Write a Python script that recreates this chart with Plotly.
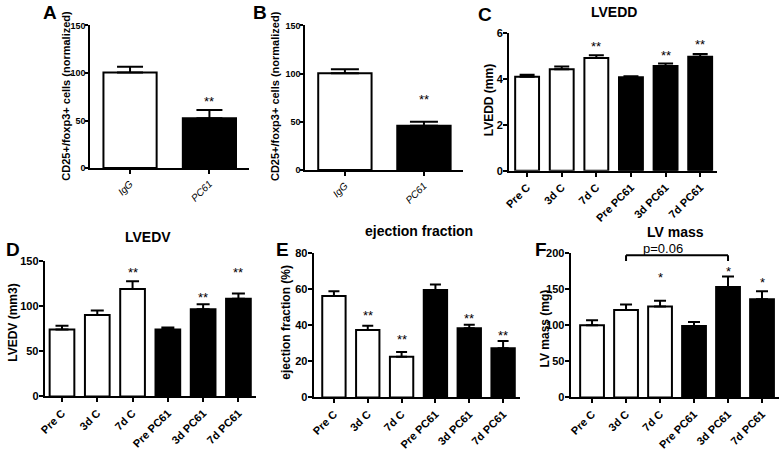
import plotly.graph_objects as go

W, H = 781, 451

# ---------------- data ----------------
ab_cats = ["IgG", "PC61"]
a_mean = [100.4, 52.5]
a_sem = [6.1, 8.6]
b_mean = [100.3, 45.8]
b_sem = [4.2, 4.4]

cats = ["Pre C", "3d C", "7d C", "Pre PC61", "3d PC61", "7d PC61"]
lvedd_mean = [4.10, 4.43, 4.92, 4.08, 4.57, 4.97]
lvedd_sem = [0.09, 0.11, 0.12, 0.04, 0.11, 0.12]
lvedv_mean = [74, 90, 119, 74, 96.5, 108]
lvedv_sem = [4.3, 5.0, 8.5, 2.4, 5.4, 6.0]
ef_mean = [56.2, 37.4, 22.5, 59.6, 38.3, 27.2]
ef_sem = [2.7, 2.3, 2.7, 3.0, 2.0, 4.1]
lvmass_mean = [100, 121, 126, 99, 153, 136]
lvmass_sem = [7.0, 7.6, 7.8, 5.4, 14.7, 11.2]

ab_fill = ["white", "black"]
fill6 = ["white", "white", "white", "black", "black", "black"]

# significance marks: (category, y, label)
a_stars = [("PC61", 73.6, "**")]
b_stars = [("PC61", 76.7, "**")]
c_stars = [("7d C", 5.53, "**"), ("3d PC61", 5.15, "**"), ("7d PC61", 5.62, "**")]
d_stars = [("7d C", 140.7, "**"), ("3d PC61", 112.8, "**"), ("7d PC61", 140.7, "**")]
e_stars = [("3d C", 47.2, "**"), ("7d C", 33.8, "**"), ("3d PC61", 45.5, "**"), ("7d PC61", 35.8, "**")]
f_stars = [("7d C", 170.9, "*"), ("3d PC61", 178.9, "*"), ("7d PC61", 163.4, "*")]

# p-value bracket in F
bracket_from, bracket_to = "3d C", "3d PC61"
bracket_y, bracket_tip_y = 197, 189
bracket_text = "p=0.06"

# ---------------- layout helpers ----------------
def px_x(p):
    return p / W

def px_y(p):
    return 1 - p / H

panels = [
    dict(cats=ab_cats, mean=a_mean, sem=a_sem, fill=ab_fill, stars=a_stars,
         x0=85, x1=245, y0=20, y1=167.3, xr=[-0.5, 1.5], yr=[0, 150], dt=50,
         width=0.67, cap=13, narrow=True),
    dict(cats=ab_cats, mean=b_mean, sem=b_sem, fill=ab_fill, stars=b_stars,
         x0=301.7, x1=461, y0=20, y1=169.3, xr=[-0.5, 1.5], yr=[0, 150], dt=50,
         width=0.675, cap=14, narrow=True),
    dict(cats=cats, mean=lvedd_mean, sem=lvedd_sem, fill=fill6, stars=c_stars,
         x0=507, x1=717, y0=28, y1=170, xr=[-0.52, 5.5], yr=[0, 6], dt=2,
         width=0.69, cap=7.5, narrow=False),
    dict(cats=cats, mean=lvedv_mean, sem=lvedv_sem, fill=fill6, stars=d_stars,
         x0=39, x1=252, y0=263, y1=403, xr=[-0.49, 5.5], yr=[0, 150], dt=50,
         width=0.70, cap=6.5, narrow=False),
    dict(cats=cats, mean=ef_mean, sem=ef_sem, fill=fill6, stars=e_stars,
         x0=310, x1=518, y0=255, y1=404, xr=[-0.6, 5.5], yr=[0, 80], dt=20,
         width=0.69, cap=5.5, narrow=False),
    dict(cats=cats, mean=lvmass_mean, sem=lvmass_sem, fill=fill6, stars=f_stars,
         x0=569, x1=779, y0=255, y1=404, xr=[-0.63, 5.5], yr=[0, 200], dt=50,
         width=0.70, cap=6, narrow=False),
]

FONT = "Liberation Sans, Arial, sans-serif"
NARROW = "Liberation Sans Narrow, Arial Narrow, Liberation Sans, Arial, sans-serif"

fig = go.Figure()
annotations = []
shapes = []

for i, p in enumerate(panels, start=1):
    xa = "x" if i == 1 else f"x{i}"
    ya = "y" if i == 1 else f"y{i}"
    fig.add_trace(go.Bar(
        x=p["cats"], y=p["mean"], xaxis=xa, yaxis=ya,
        width=p["width"],
        marker=dict(color=p["fill"], line=dict(color="black", width=2)),
        error_y=dict(type="data", symmetric=False, array=p["sem"],
                     arrayminus=[0] * len(p["sem"]), color="black",
                     thickness=2, width=p["cap"]),
        showlegend=False, hoverinfo="skip",
    ))
    key = "" if i == 1 else str(i)
    xtickfont = dict(family=FONT, size=11, color="black", weight="bold")
    if p["narrow"]:
        xtickfont = dict(family=FONT, size=10, color="black", style="italic")
    fig.update_layout(**{
        f"xaxis{key}": dict(
            domain=[px_x(p["x0"]), px_x(p["x1"])], anchor=ya,
            range=p["xr"], type="category", tickangle=-45,
            showline=True, linecolor="black", linewidth=2,
            ticks="outside", ticklen=4, tickwidth=1.5, tickcolor="black",
            showgrid=False, zeroline=False, tickfont=xtickfont, fixedrange=True),
        f"yaxis{key}": dict(
            domain=[px_y(p["y1"]), px_y(p["y0"])], anchor=xa,
            range=p["yr"], dtick=p["dt"], tick0=0,
            showline=True, linecolor="black", linewidth=2,
            ticks="outside", ticklen=4 if not p["narrow"] else 3,
            tickwidth=2, tickcolor="black",
            ticklabelstandoff=-2,
            showgrid=False, zeroline=False, fixedrange=True,
            tickfont=dict(family=NARROW if p["narrow"] else FONT,
                          size=9 if p["narrow"] else 11,
                          color="black", weight="bold")),
    })
    for c, yv, txt in p["stars"]:
        annotations.append(dict(x=c, y=yv, xref=xa, yref=ya, text=txt,
                                showarrow=False, yanchor="middle", yshift=-3,
                                font=dict(family=FONT, size=13, color="black")))

# bracket in panel F
shapes += [
    dict(type="line", xref="x6", yref="y6", x0=bracket_from, x1=bracket_to,
         y0=bracket_y, y1=bracket_y, line=dict(color="black", width=2)),
    dict(type="line", xref="x6", yref="y6", x0=bracket_from, x1=bracket_from,
         y0=bracket_y, y1=bracket_tip_y, line=dict(color="black", width=2)),
    dict(type="line", xref="x6", yref="y6", x0=bracket_to, x1=bracket_to,
         y0=bracket_y, y1=bracket_tip_y, line=dict(color="black", width=2)),
]

def paper_text(txt, cx, cy, size, bold=True, angle=0):
    font = dict(family=FONT, size=size, color="black")
    if bold:
        font["weight"] = "bold"
    return dict(x=px_x(cx), y=px_y(cy), xref="paper", yref="paper",
                xanchor="center", yanchor="middle", text=txt, showarrow=False,
                textangle=angle, font=font)

annotations.append(paper_text(bracket_text, 662, 250, 13, bold=False))

# panel titles
for txt, cx, cy in [("LVEDD", 613, 6.5), ("LVEDV", 143, 238),
                    ("ejection fraction", 416, 232), ("LV mass", 675, 233)]:
    annotations.append(paper_text(txt, cx, cy, 14))

# panel letters
for txt, cx, cy in [("A", 44.5, 7), ("B", 256, 7), ("C", 483, 9),
                    ("D", 7, 251), ("E", 279, 251), ("F", 539, 251)]:
    annotations.append(paper_text(txt, cx, cy, 19))

# y-axis titles
for txt, cx, cy, sz in [("CD25+/foxp3+ cells (normalized)", 61, 93, 11),
                        ("CD25+/foxp3+ cells (normalized)", 271, 93, 11),
                        ("LVEDD (mm)", 487, 97, 12),
                        ("LVEDV (mm3)", 7, 327, 12),
                        ("ejection fraction (%)", 282, 326, 12),
                        ("LV mass (mg)", 543, 333, 12)]:
    annotations.append(paper_text(txt, cx, cy, sz, angle=-90))

fig.update_layout(width=W, height=H, margin=dict(l=0, r=0, t=0, b=0),
                  paper_bgcolor="white", plot_bgcolor="white",
                  annotations=annotations, shapes=shapes, bargap=0.3)

fig.write_html("out.html", config={"displayModeBar": False},
               post_script="document.body.style.margin='0';")
